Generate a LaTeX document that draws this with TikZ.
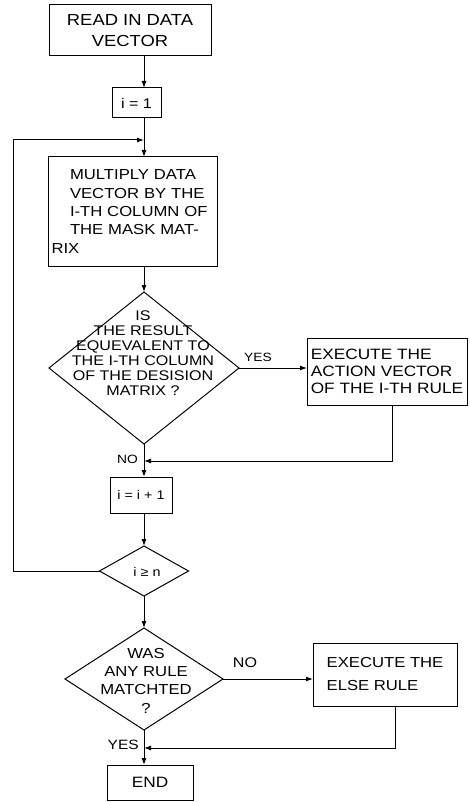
\documentclass[tikz,border=0pt]{standalone}
\usepackage{fontspec}
\setmainfont{Liberation Sans}[FakeStretch=1.15]
\usetikzlibrary{arrows.meta,shapes.geometric}
\tikzset{
  box/.style={draw, line width=1pt, rectangle, inner sep=0pt, outer sep=0pt},
  dia/.style={draw, line width=1pt, diamond, inner sep=0pt, outer sep=0pt},
  arr/.style={line width=1pt, -{Latex[length=7pt,width=5pt]}},
  ln/.style={line width=1pt},
  lbl/.style={inner sep=0pt, font=\fontsize{12}{14}\selectfont},
}
\begin{document}
\begin{tikzpicture}[x=1pt,y=-1pt]
\useasboundingbox[fill=white] (0,0) rectangle (469,802);
\coordinate (col) at (144,0);
% nodes
\node[box, minimum width=162pt, minimum height=51pt, align=center,
      font=\fontsize{16}{21}\selectfont] (b1) at (130,30.5) {READ IN DATA\\VECTOR};
\node[box, minimum width=49pt, minimum height=30pt,
      font=\fontsize{14}{16}\selectfont] (b2) at (136.5,103) {i = 1};
\node[box, minimum width=169pt, minimum height=109pt, align=left, text width=162pt,
      font=\fontsize{14.5}{18.3}\selectfont] (b3) at (132.5,211.5)
      {\leftskip=18.5pt MULTIPLY DATA\\VECTOR BY THE\\I-TH COLUMN OF\\THE MASK MAT-\\RIX};
\node[dia, minimum width=190pt, minimum height=152pt] (d1) at (144,368) {};
\node[inner sep=0pt, align=center, font=\fontsize{14}{15}\selectfont] (d1t) at (143,353)
      {IS\\THE RESULT\\EQUEVALENT TO\\THE I-TH COLUMN\\OF THE DESISION\\MATRIX ?};
\node[box, minimum width=160pt, minimum height=67pt, align=left,
      font=\fontsize{15}{17}\selectfont] (b4) at (387,371.5)
      {EXECUTE THE\\ACTION VECTOR\\OF THE I-TH RULE};
\node[lbl] (yes1) at (258,357) {YES};
\coordinate (m1) at (144,461);
\node[lbl, anchor=east] (no1) at (138,459) {NO};
\node[box, minimum width=62pt, minimum height=36pt,
      font=\fontsize{12.5}{14}\selectfont] (b5) at (141,495) {i = i + 1};
\node[dia, minimum width=89pt, minimum height=50pt] (d2) at (144,571) {};
\node[inner sep=0pt, font=\fontsize{12.5}{14}\selectfont] (d2t) at (147,572) {i ≥ n};
\coordinate (lp) at (13,140);
\coordinate (j1) at (144,140);
\node[dia, minimum width=158pt, minimum height=102pt] (d3) at (144,679) {};
\node[inner sep=0pt, align=center, font=\fontsize{14.5}{18.3}\selectfont] (d3t) at (146,680.5)
      {WAS\\ANY RULE\\MATCHTED\\?};
\node[lbl, font=\fontsize{14}{16}\selectfont] (no2) at (245,663) {NO};
\node[box, minimum width=144pt, minimum height=63pt, align=left,
      font=\fontsize{14.5}{23}\selectfont] (b6) at (385,674.5)
      {EXECUTE THE\\ELSE RULE};
\coordinate (m2) at (144,748);
\node[lbl, anchor=east, font=\fontsize{13.5}{16}\selectfont] (yes2) at (139,745) {YES};
\node[box, minimum width=86pt, minimum height=35pt,
      font=\fontsize{15}{16}\selectfont] (b7) at (150,782.5) {END};
% connectors
\draw[arr] (b1.south -| col) -- (b2.north -| col);
\draw[arr] (b2.south -| col) -- (b3.north -| col);
\draw[arr] (b3.south -| col) -- (d1.north);
\draw[arr] (d1.east) -- (d1.east -| b4.west);
\draw[arr] ([xshift=5pt]b4.south) |- (m1);
\draw[arr] (d1.south) -- (b5.north -| col);
\draw[arr] (b5.south -| col) -- (d2.north);
\draw[arr] (d2.west) -| (lp) -- (j1);
\draw[arr] (d2.south) -- (d3.north);
\draw[arr] (d3.east) -- (d3.east -| b6.west);
\draw[arr] ([xshift=10pt]b6.south) |- (m2);
\draw[arr] (d3.south) -- (b7.north -| col);
\end{tikzpicture}
\end{document}
